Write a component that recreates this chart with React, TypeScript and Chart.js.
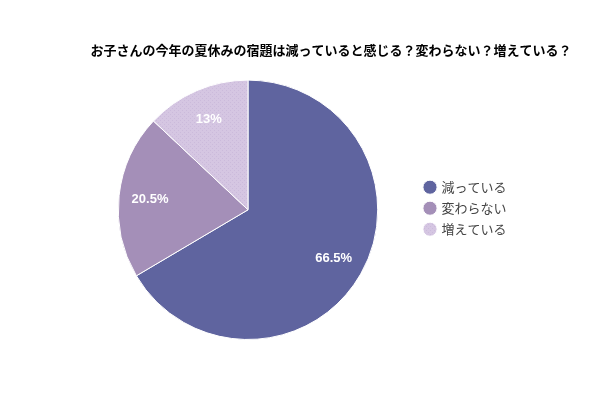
import React, { useEffect, useRef } from "react";
import { Chart, registerables } from "chart.js";

Chart.register(...registerables);

const titleText = "お子さんの今年の夏休みの宿題は減っていると感じる？変わらない？増えている？";
const categories = ["減っている", "変わらない", "増えている"];
const values = [66.5, 20.5, 13];
const labelsText = ["66.5%", "20.5%", "13%"];
const colors = ["#5f649f", "#a48fb8", "#d5c6e2"];

function makePattern(base: string, dot: string): CanvasPattern | string {
  const c = document.createElement("canvas");
  c.width = 4;
  c.height = 4;
  const ctx = c.getContext("2d");
  if (!ctx) return base;
  ctx.fillStyle = base;
  ctx.fillRect(0, 0, 4, 4);
  ctx.fillStyle = dot;
  ctx.fillRect(0, 0, 1, 1);
  ctx.fillRect(2, 2, 1, 1);
  const p = ctx.createPattern(c, "repeat");
  return p || base;
}

const sliceLabels = {
  id: "sliceLabels",
  afterDatasetsDraw(chart: any) {
    const ctx = chart.ctx;
    const meta = chart.getDatasetMeta(0);
    ctx.save();
    ctx.font = "bold 13px 'Liberation Sans', Arial, sans-serif";
    ctx.fillStyle = "#ffffff";
    ctx.textAlign = "center";
    ctx.textBaseline = "middle";
    meta.data.forEach((arc: any, i: number) => {
      const p = arc.getProps(["x", "y", "startAngle", "endAngle", "outerRadius"], true);
      const mid = (p.startAngle + p.endAngle) / 2;
      const r = p.outerRadius * 0.76;
      ctx.fillText(labelsText[i], p.x + Math.cos(mid) * r, p.y + Math.sin(mid) * r);
    });
    ctx.restore();
  },
};

const legendWidth = {
  id: "legendWidth",
  afterInit(chart: any) {
    const lg = chart.legend;
    if (!lg) return;
    const orig = lg.fit.bind(lg);
    lg.fit = function () {
      orig();
      this.width = 166;
    };
  },
};

export default function App() {
  const ref = useRef<HTMLCanvasElement>(null);
  useEffect(() => {
    document.body.style.margin = "0";
    if (!ref.current) return;
    const bg = [colors[0], colors[1], makePattern(colors[2], "#cbbadb")];
    const chart = new Chart(ref.current, {
      type: "pie",
      data: {
        labels: categories,
        datasets: [
          {
            data: values,
            backgroundColor: bg as any,
            borderColor: "#ffffff",
            borderWidth: 1,
          },
        ],
      },
      options: {
        animation: false,
        responsive: false,
        layout: { padding: { left: 79, right: 17, top: 0, bottom: 60 } },
        plugins: {
          title: {
            display: true,
            text: titleText,
            color: "#000000",
            font: { size: 13, weight: "bold", family: "'Noto Sans CJK JP', sans-serif" },
            padding: { top: 42, bottom: 22 },
          },
          legend: {
            position: "right",
            title: { display: true, text: "", padding: { top: 62, bottom: 0 }, font: { size: 12 } },
            labels: {
              usePointStyle: true,
              pointStyle: "circle",
              boxWidth: 10,
              boxHeight: 10,
              padding: 8,
              color: "#444444",
              font: { size: 13, family: "'Noto Sans CJK JP', sans-serif" },
            },
          },
          tooltip: { enabled: false },
        },
      },
      plugins: [sliceLabels, legendWidth],
    });
    return () => chart.destroy();
  }, []);
  return (
    <div style={{ width: 600, height: 400 }}>
      <canvas ref={ref} width={600} height={400} style={{ width: 600, height: 400 }} />
    </div>
  );
}
